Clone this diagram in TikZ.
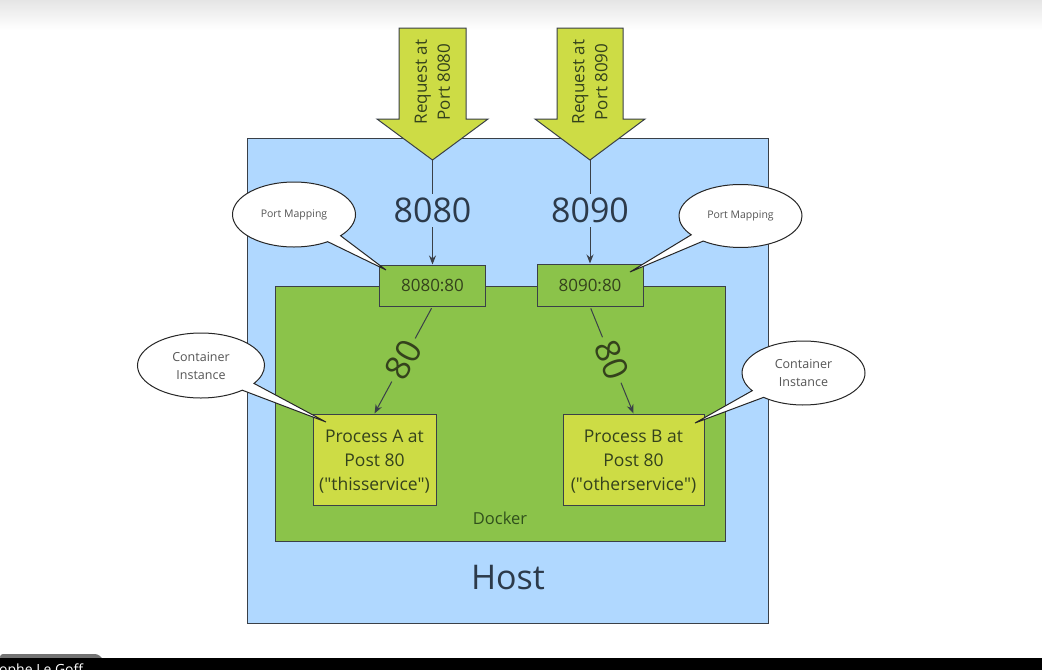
\documentclass[tikz,border=0pt]{standalone}
\usepackage{fontspec}
\setmainfont{Open Sans}
\newfontfamily\qfont{Open Sans}
\usetikzlibrary{shapes.callouts,arrows.meta,calc}
\definecolor{hostblue}{HTML}{B0D8FF}
\definecolor{dockgreen}{HTML}{8BC34A}
\definecolor{procyellow}{HTML}{CDDC45}
\definecolor{edgecol}{HTML}{3A4048}
\definecolor{olivetext}{HTML}{34421C}
\definecolor{docktext}{HTML}{30501C}
\definecolor{slatetext}{HTML}{2C3A4A}
\definecolor{calltext}{HTML}{555555}
\newcommand{\dq}{{\qfont"}}
\begin{document}
\begin{tikzpicture}[x=1pt,y=-1pt,
  boxbase/.style={draw=edgecol, line width=1pt, inner sep=0pt},
  hostbox/.style={boxbase, fill=hostblue},
  dockbox/.style={boxbase, fill=dockgreen},
  mapbox/.style={boxbase, fill=dockgreen, text=olivetext, font=\fontsize{17}{20}\selectfont},
  procbox/.style={boxbase, fill=procyellow},
  proctext/.style={inner sep=0pt, text=olivetext, align=center, font=\fontsize{17.5}{24}\selectfont},
  blockarrow/.style={fill=procyellow, draw=edgecol, line width=1pt, line join=miter},
  conn/.style={draw=edgecol, line width=1pt, -{Stealth[length=9pt,width=7pt]}},
  bignum/.style={text=slatetext, font=\fontsize{34}{40}\selectfont, inner sep=2pt},
  bubble/.style={ellipse callout, draw=black!85, line width=1pt, fill=white, inner sep=0pt, callout pointer arc=16, text=calltext, align=center}
]
\useasboundingbox (0,0) rectangle (1042,670);
\clip (0,0) rectangle (1042,670);
\fill[white] (0,0) rectangle (1042,670);
\fill[top color=black!10, bottom color=white] (0,0) rectangle (1042,30);

% Host and Docker
\node[hostbox, minimum width=521, minimum height=485] (host) at (507.5,380.5) {};
\node[dockbox, minimum width=450, minimum height=255] (docker) at (500,413.5) {};
\node[text=slatetext, font=\fontsize{34}{40}\selectfont] (hostlbl) at (508,578) {Host};
\node[text=docktext, font=\fontsize{16.5}{20}\selectfont] (docklbl) at (500,518) {Docker};

% Port mapping boxes
\node[mapbox, minimum width=106, minimum height=41] (m1) at (432.5,285.5) {8080:80};
\node[mapbox, minimum width=106, minimum height=42] (m2) at (590,285) {8090:80};

% Process boxes
\node[procbox, minimum width=123, minimum height=91] (pA) at (374.5,459.5) {};
\node[proctext] (pAtext) at (374.5,462) {Process A at\\Post 80\\(\dq thisservice\dq)};
\node[procbox, minimum width=141, minimum height=91] (pB) at (633.5,459.5) {};
\node[proctext] (pBtext) at (633.5,462) {Process B at\\Post 80\\(\dq otherservice\dq)};

% Block arrows
\draw[blockarrow] (399,28) -- (466,28) -- (466,119) -- (488,119) -- (432.5,160) -- (377,119) -- (399,119) -- cycle;
\coordinate (tip1) at (432.5,160);
\node[rotate=90, align=center, text=olivetext, font=\fontsize{17}{23}\selectfont] (req1) at (432.5,82) {Request at\\Port 8080};
\draw[blockarrow] (557,28) -- (623,28) -- (623,119) -- (645,119) -- (590,160) -- (535,119) -- (557,119) -- cycle;
\coordinate (tip2) at (590,160);
\node[rotate=90, align=center, text=olivetext, font=\fontsize{17}{23}\selectfont] (req2) at (590,82) {Request at\\Port 8090};

% Connectors
\draw[conn] (tip1) -- node[bignum, fill=hostblue, inner ysep=4pt, yshift=1.5pt] (l8080) {8080} (m1.north);
\draw[conn] (tip2) -- node[bignum, fill=hostblue, inner ysep=4pt, yshift=1.5pt] (l8090) {8090} (m2.north);
\draw[conn, shorten <=2pt] (m1.south) -- node[bignum, sloped, fill=dockgreen, text=olivetext, inner xsep=5pt] (l80a) {80} (pA.north);
\draw[conn, shorten <=2pt] (m2.south) -- node[bignum, sloped, fill=dockgreen, text=olivetext, inner xsep=5pt] (l80b) {80} (pB.north);

% Callouts
\coordinate (c1) at (386,270);
\coordinate (c2) at (630,272);
\coordinate (c3) at (326,422);
\coordinate (c4) at (695,423);
\node[bubble, minimum width=123, minimum height=65, callout absolute pointer={(c1)}, font=\fontsize{10.5}{13}\selectfont] (pm1) at (294,214.5) {Port Mapping};
\node[bubble, minimum width=123, minimum height=63, callout absolute pointer={(c2)}, font=\fontsize{10.5}{13}\selectfont] (pm2) at (740.5,216) {Port Mapping};
\node[bubble, minimum width=127, minimum height=65, callout absolute pointer={(c3)}, font=\fontsize{12.5}{18}\selectfont] (ci1) at (201,365.5) {Container\\Instance};
\node[bubble, minimum width=123, minimum height=64, callout absolute pointer={(c4)}, font=\fontsize{12.5}{18}\selectfont] (ci2) at (803.5,373) {Container\\Instance};

% Bottom video bar
\fill[black!55, rounded corners=3pt] (0,654) -- (98,654) -- (104,660) -- (0,660) -- cycle;
\fill[black] (0,658) rectangle (1042,670);
\node[white, anchor=base west, inner sep=0pt, font=\fontsize{14}{14}\selectfont] (credit) at (-6,674) {tophe Le Goff};
\end{tikzpicture}
\end{document}
